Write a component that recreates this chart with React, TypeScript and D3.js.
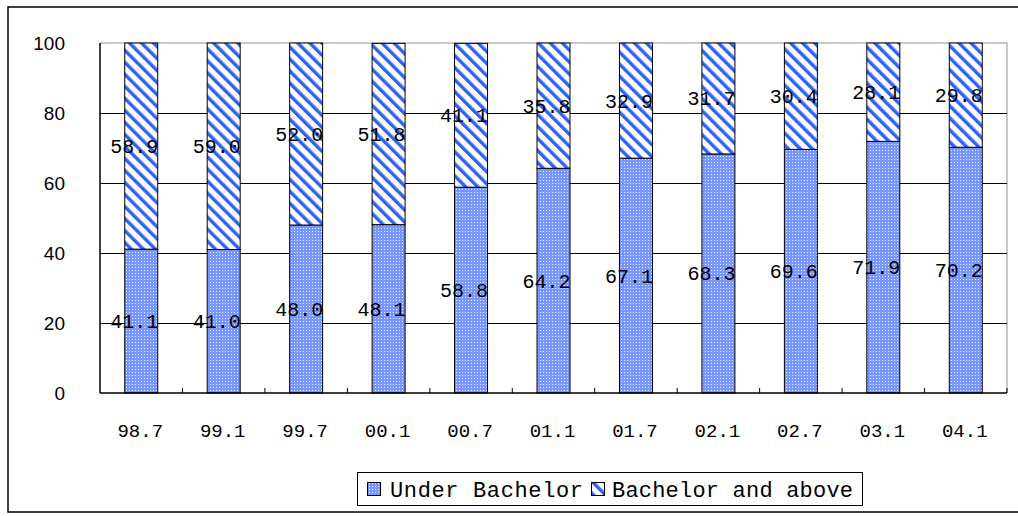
import React from "react";
import * as d3 from "d3";

const categories = ["98.7", "99.1", "99.7", "00.1", "00.7", "01.1", "01.7", "02.1", "02.7", "03.1", "04.1"];
const underBachelor = [41.1, 41.0, 48.0, 48.1, 58.8, 64.2, 67.1, 68.3, 69.6, 71.9, 70.2];
const bachelorAbove = [58.9, 59.0, 52.0, 51.8, 41.1, 35.8, 32.9, 31.7, 30.4, 28.1, 29.8];
const yTicks = [0, 20, 40, 60, 80, 100];
const seriesNames = ["Under Bachelor", "Bachelor and above"];

const W = 1018;
const H = 516;
const plot = { left: 100, right: 1007, top: 43, bottom: 393 };
const mono = "'Liberation Mono', 'DejaVu Sans Mono', monospace";
const sans = "'Liberation Sans', Arial, sans-serif";

export default function App() {
  const x = d3.scaleBand<string>().domain(categories).range([plot.left, plot.right]).paddingInner(0).paddingOuter(0);
  const y = d3.scaleLinear().domain([0, 100]).range([plot.bottom, plot.top]);
  const bw = x.bandwidth() * 0.4;

  const rows = categories.map((c, i) => ({ c, u: underBachelor[i], b: bachelorAbove[i] }));
  const stack = d3.stack<any>().keys(["u", "b"])(rows as any);

  const fills = ["url(#dots)", "url(#stripes)"];

  return (
    <svg width={W} height={H} style={{ position: "absolute", left: 0, top: 0, display: "block" }}>
      <defs>
        <pattern id="dots" patternUnits="userSpaceOnUse" width={3} height={3}>
          <rect width={3} height={3} fill="#7896ff" />
          <rect x={0} y={0} width={1} height={1} fill="#e8eeff" />
        </pattern>
        <pattern id="stripes" patternUnits="userSpaceOnUse" width={8.5} height={8.5} patternTransform="rotate(-45)">
          <rect width={8.5} height={8.5} fill="#ffffff" />
          <rect x={0} y={0} width={3.4} height={8.5} fill="#2f62f5" />
        </pattern>
      </defs>
      <rect x={0} y={0} width={W} height={H} fill="#fff" />
      <rect x={8} y={7} width={W + 10} height={505} fill="none" stroke="#000" strokeWidth={1.5} />

      <line x1={plot.left} x2={plot.right} y1={y(100)} y2={y(100)} stroke="#909090" strokeWidth={1} />
      <line x1={plot.right} x2={plot.right} y1={y(100)} y2={plot.bottom} stroke="#909090" strokeWidth={1} />

      {yTicks.filter((t) => t > 0 && t < 100).map((t) => (
        <line key={t} x1={plot.left} x2={plot.right} y1={Math.round(y(t)) + 0.5} y2={Math.round(y(t)) + 0.5} stroke="#000" strokeWidth={1} />
      ))}

      {yTicks.map((t) => (
        <text key={t} x={65} y={y(t) + 7} textAnchor="end" fontFamily={sans} fontSize={19} fill="#000">
          {t}
        </text>
      ))}

      {stack.map((s, si) =>
        s.map((d, i) => {
          const cx = (x(categories[i]) as number) + x.bandwidth() / 2;
          const y0 = y(d[0]);
          const y1 = y(d[1]);
          return (
            <rect key={si + "-" + i} x={cx - bw / 2} y={y1} width={bw} height={y0 - y1} fill={fills[si]} stroke="#000" strokeWidth={1} />
          );
        })
      )}

      <line x1={plot.left} x2={plot.left} y1={y(100)} y2={plot.bottom} stroke="#000" strokeWidth={1.5} />
      <line x1={plot.left} x2={plot.right} y1={plot.bottom} y2={plot.bottom} stroke="#000" strokeWidth={1.5} />
      {categories.slice(1).map((c) => (
        <line key={c} x1={x(c)} x2={x(c)} y1={plot.bottom - 5} y2={plot.bottom} stroke="#000" strokeWidth={1} />
      ))}
      <line x1={plot.right} x2={plot.right} y1={plot.bottom - 5} y2={plot.bottom} stroke="#000" strokeWidth={1} />

      {stack.map((s, si) =>
        s.map((d, i) => {
          const cx = (x(categories[i]) as number) + x.bandwidth() / 2;
          const v = si === 0 ? underBachelor[i] : bachelorAbove[i];
          return (
            <text key={"l" + si + "-" + i} x={cx - 7} y={y((d[0] + d[1]) / 2) + 7} textAnchor="middle" fontFamily={mono} fontSize={20} fill="#000">
              {v.toFixed(1)}
            </text>
          );
        })
      )}

      {categories.map((c) => (
        <text key={c} x={(x(c) as number) + x.bandwidth() / 2 - 1} y={437} textAnchor="middle" fontFamily={mono} fontSize={19} fill="#000">
          {c}
        </text>
      ))}

      <rect x={357.5} y={472.5} width={505} height={33} fill="#fff" stroke="#000" strokeWidth={1} />
      <rect x={367.5} y={482.5} width={13} height={13} fill={fills[0]} stroke="#000" strokeWidth={1} />
      <text x={390} y={497} fontFamily={mono} fontSize={22} textLength={193} fill="#000">{seriesNames[0]}</text>
      <rect x={591.5} y={482.5} width={13} height={13} fill={fills[1]} stroke="#000" strokeWidth={1} />
      <text x={612} y={497} fontFamily={mono} fontSize={22} textLength={241} fill="#000">{seriesNames[1]}</text>
    </svg>
  );
}
